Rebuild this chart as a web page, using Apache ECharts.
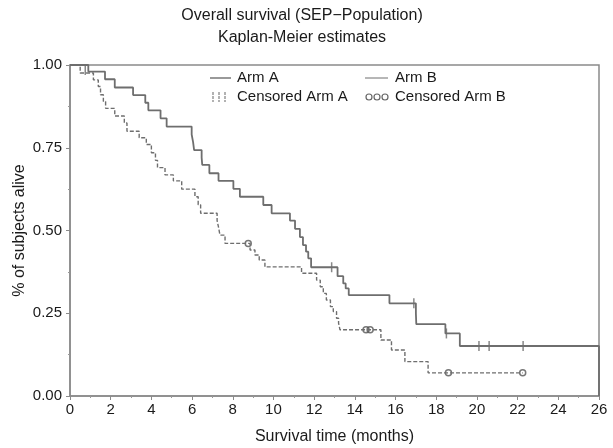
<!DOCTYPE html>
<html>
<head>
<meta charset="utf-8">
<script src="https://cdn.jsdelivr.net/npm/echarts@6/dist/echarts.min.js"></script>
<style>
	html, body { margin: 0; padding: 0; background: #fff; }
	#main { width: 613px; height: 448px; }
</style>
</head>
<body>
<div id="main"></div>
<script>
	// Arm A (solid) - KM step points: time of event, survival after event
	var armA_t = [0, 0.9, 1.72, 2.2, 3.1, 3.7, 3.85, 4.45, 4.75, 5.98, 6.05, 6.1, 6.47, 6.5, 6.85, 7.3, 8.03, 8.35, 9.5, 9.91, 10.81, 11.06, 11.3, 11.45, 11.6, 11.71, 11.85, 13.15, 13.43, 13.55, 13.7, 15.7, 17.0, 17.02, 18.45, 19.16, 26, 26];
	var armA_s = [1.0, 0.98, 0.957, 0.932, 0.909, 0.886, 0.863, 0.839, 0.814, 0.79, 0.767, 0.743, 0.72, 0.698, 0.673, 0.65, 0.626, 0.602, 0.577, 0.552, 0.53, 0.505, 0.48, 0.456, 0.436, 0.416, 0.389, 0.362, 0.34, 0.325, 0.305, 0.28, 0.25, 0.217, 0.189, 0.151, 0.151, 0];
	// Arm B (dashed)
	var armB_t = [0, 0.5, 1.15, 1.39, 1.5, 1.64, 1.75, 2.2, 2.67, 2.8, 3.4, 3.75, 4.0, 4.2, 4.3, 4.67, 5.08, 5.49, 6.14, 6.3, 6.42, 7.23, 7.3, 7.37, 7.62, 8.85, 9.09, 9.3, 9.58, 11.38, 12.12, 12.3, 12.45, 12.6, 12.8, 12.94, 13.1, 13.2, 13.27, 15.28, 15.8, 16.46, 17.6, 22.25];
	var armB_s = [1.0, 0.976, 0.955, 0.935, 0.91, 0.89, 0.869, 0.846, 0.825, 0.8, 0.78, 0.76, 0.735, 0.712, 0.69, 0.668, 0.65, 0.625, 0.602, 0.578, 0.552, 0.53, 0.51, 0.486, 0.461, 0.441, 0.426, 0.411, 0.39, 0.371, 0.35, 0.33, 0.31, 0.29, 0.27, 0.255, 0.235, 0.22, 0.2, 0.169, 0.139, 0.104, 0.07, 0.07];
	// censored
	var censA_t = [0.75, 12.86, 16.9, 18.5, 20.1, 20.6, 22.27];
	var censA_s = [0.985, 0.389, 0.28, 0.189, 0.151, 0.151, 0.151];
	var censB_t = [8.76, 14.55, 14.75, 18.6, 22.25];
	var censB_s = [0.461, 0.2, 0.2, 0.07, 0.07];
	// axis ticks
	var xTicks = [0, 2, 4, 6, 8, 10, 12, 14, 16, 18, 20, 22, 24, 26];
	var yTicks = [0, 0.25, 0.5, 0.75, 1.0];

	function pairs(t, s) {
		var out = [];
		for (var i = 0; i < t.length; i++) {
			out.push([t[i], s[i]]);
		}
		return out;
	}

	var lineColor = '#6e6e6e';
	var font = 'Liberation Sans, Arial, sans-serif';
	var legendFont = '15px ' + font;

	var myChart = echarts.init(document.getElementById('main'));
	var option = {
		animation: false,
		backgroundColor: '#fff',
		title: {
			text: 'Overall survival (SEP\u2212Population)\nKaplan-Meier estimates',
			left: 297,
			textAlign: 'center',
			top: 0,
			textStyle: { fontFamily: font, fontSize: 16, fontWeight: 'normal', color: '#1a1a1a', lineHeight: 22 }
		},
		grid: {
			left: 70, right: 14, top: 65, bottom: 52,
			outerBoundsMode: 'none',
			show: true, borderColor: '#8a8a8a', borderWidth: 1.5
		},
		xAxis: {
			type: 'value', min: xTicks[0], max: xTicks[xTicks.length - 1], interval: 2,
			name: 'Survival time (months)', nameLocation: 'middle', nameGap: 33,
			nameMoveOverlap: false,
			nameTextStyle: { fontFamily: font, fontSize: 16, color: '#1a1a1a' },
			axisLine: { show: true, lineStyle: { color: '#8a8a8a', width: 1.5 } },
			axisTick: { show: true, length: 4, lineStyle: { color: '#8a8a8a' } },
			minorTick: { show: true, splitNumber: 2, length: 2, lineStyle: { color: '#999' } },
			axisLabel: { fontFamily: font, fontSize: 15, color: '#1a1a1a', margin: 6 },
			splitLine: { show: false }
		},
		yAxis: {
			type: 'value', min: yTicks[0], max: yTicks[yTicks.length - 1], interval: 0.25,
			name: '% of subjects alive', nameLocation: 'middle', nameGap: 42,
			nameMoveOverlap: false,
			nameTextStyle: { fontFamily: font, fontSize: 16, color: '#1a1a1a' },
			axisLine: { show: true, lineStyle: { color: '#8a8a8a', width: 1.5 } },
			axisTick: { show: true, length: 4, lineStyle: { color: '#8a8a8a' } },
			minorTick: { show: true, splitNumber: 2, length: 2, lineStyle: { color: '#999' } },
			axisLabel: { fontFamily: font, fontSize: 15, color: '#1a1a1a', margin: 8,
				formatter: function(v) { return v.toFixed(2); } },
			splitLine: { show: false }
		},
		series: [
			{
				name: 'Arm A', type: 'line', step: 'end', showSymbol: false,
				data: pairs(armA_t, armA_s),
				lineStyle: { color: lineColor, width: 1.8 }
			},
			{
				name: 'Arm B', type: 'line', step: 'end', showSymbol: false,
				data: pairs(armB_t, armB_s),
				lineStyle: { color: lineColor, width: 1.4, type: [4, 2] }
			},
			{
				name: 'Censored Arm A', type: 'scatter',
				data: pairs(censA_t, censA_s),
				symbol: 'rect', symbolSize: [1.5, 10],
				itemStyle: { color: '#6a6a6a' }
			},
			{
				name: 'Censored Arm B', type: 'scatter',
				data: pairs(censB_t, censB_s),
				symbol: 'circle', symbolSize: 6,
				itemStyle: { color: 'rgba(0,0,0,0)', borderColor: '#555', borderWidth: 1.5 }
			}
		],
		graphic: [
			// legend
			{ type: 'line', shape: { x1: 210, y1: 78, x2: 231, y2: 78 }, style: { stroke: lineColor, lineWidth: 1.4 } },
			{ type: 'text', left: 237, top: 70, style: { text: 'Arm A', font: legendFont, fill: '#1a1a1a' } },
			{ type: 'line', shape: { x1: 365, y1: 78, x2: 388, y2: 78 }, style: { stroke: lineColor, lineWidth: 1 } },
			{ type: 'text', left: 395, top: 70, style: { text: 'Arm B', font: legendFont, fill: '#1a1a1a' } },
			{ type: 'line', shape: { x1: 213, y1: 92, x2: 213, y2: 102 }, style: { stroke: '#999', lineWidth: 1.5, lineDash: [3, 1] } },
			{ type: 'line', shape: { x1: 219, y1: 92, x2: 219, y2: 102 }, style: { stroke: '#999', lineWidth: 1.5, lineDash: [3, 1] } },
			{ type: 'line', shape: { x1: 225, y1: 92, x2: 225, y2: 102 }, style: { stroke: '#999', lineWidth: 1.5, lineDash: [3, 1] } },
			{ type: 'text', left: 237, top: 89, style: { text: 'Censored Arm A', font: legendFont, fill: '#1a1a1a' } },
			{ type: 'circle', shape: { cx: 369, cy: 97, r: 3 }, style: { fill: 'none', stroke: '#666', lineWidth: 1.2 } },
			{ type: 'circle', shape: { cx: 377, cy: 97, r: 3 }, style: { fill: 'none', stroke: '#666', lineWidth: 1.2 } },
			{ type: 'circle', shape: { cx: 385, cy: 97, r: 3 }, style: { fill: 'none', stroke: '#666', lineWidth: 1.2 } },
			{ type: 'text', left: 395, top: 89, style: { text: 'Censored Arm B', font: legendFont, fill: '#1a1a1a' } }
		]
	};
	myChart.setOption(option);
</script>
</body>
</html>
